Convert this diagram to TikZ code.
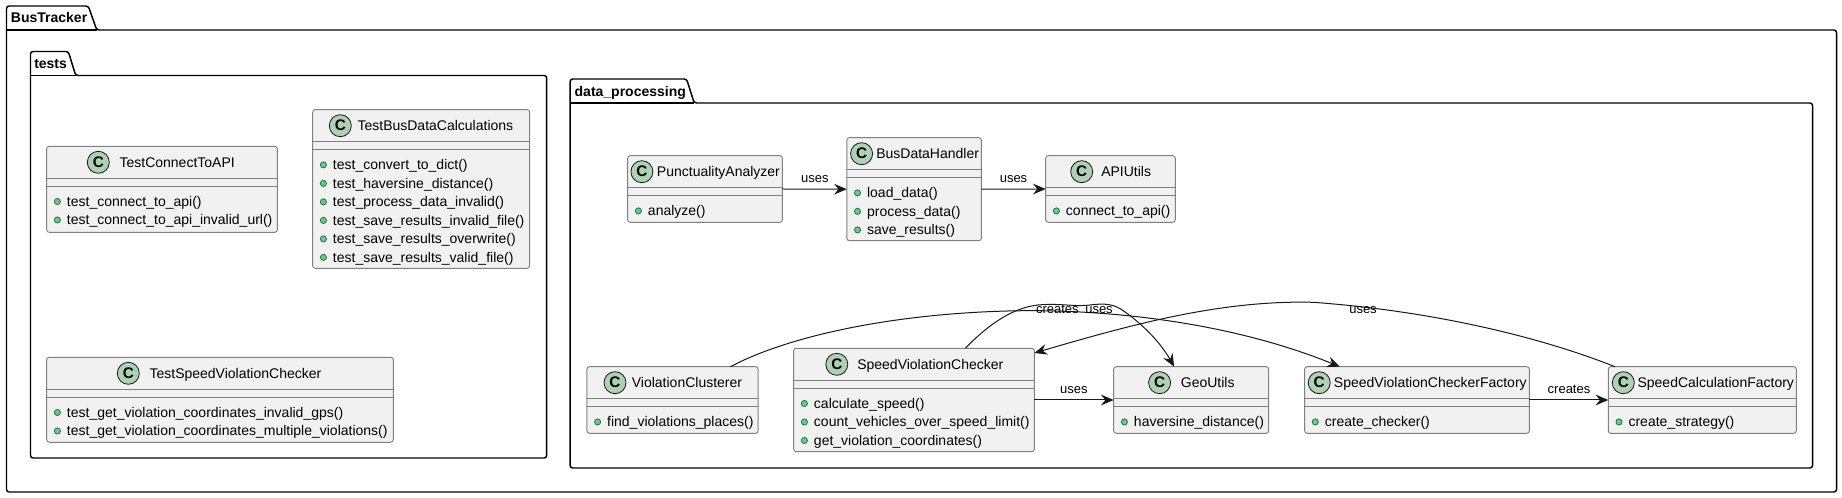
\documentclass[tikz,border=0pt]{standalone}
\usepackage{fontspec}
\setmainfont{Liberation Sans}
\usetikzlibrary{calc,arrows.meta}
\definecolor{boxfill}{HTML}{F1F1F1}
\definecolor{boxedge}{HTML}{808080}
\definecolor{ink}{HTML}{181818}
\definecolor{circfill}{HTML}{ADD1B2}
\definecolor{dotfill}{HTML}{84BE84}
\definecolor{dotedge}{HTML}{038048}
\tikzset{
  classbox/.style={draw=boxedge,fill=boxfill,line width=0.7pt,rounded corners=1.9pt,inner sep=0pt,outer sep=0pt,anchor=north west},
  classline/.style={draw=boxedge,line width=0.7pt},
  pkgshape/.style={draw=black,line width=1.1pt,rounded corners=1.9pt,line join=round},
  pkgtitle/.style={inner sep=0pt,anchor=base west,font=\fontsize{10.5pt}{12pt}\selectfont\bfseries,text=black},
  classtitle/.style={inner sep=0pt,anchor=base west,font=\fontsize{10.5pt}{12pt}\selectfont,text=black},
  member/.style={inner sep=0pt,anchor=base west,font=\fontsize{10.5pt}{12pt}\selectfont,text=black},
  linklabel/.style={inner sep=0pt,anchor=base,font=\fontsize{9.75pt}{12pt}\selectfont,text=black},
  badge/.style={circle,draw=ink,fill=circfill,line width=0.6pt,minimum size=16.5pt,inner sep=0pt,font=\fontsize{11.5pt}{12pt}\selectfont\bfseries,text=black},
  memberdot/.style={circle,draw=dotedge,fill=dotfill,line width=0.6pt,minimum size=4.6pt,inner sep=0pt},
  link/.style={draw=ink,line width=0.75pt,-{Stealth[length=9.5pt,width=8pt,inset=3.2pt,fill=ink]}}
}
% id, L, T, R, B, circle x, title x, title, rows
\newcommand{\umlclass}[9]{%
  \node[classbox,minimum width={(#4-#2)*0.75pt},minimum height={(#5-#3)*0.75pt}] (#1) at (#2,-#3) {};
  \draw[classline] ($(#1.north west)+(0,-32)$) -- ($(#1.north east)+(0,-32)$);
  \draw[classline] ($(#1.north west)+(0,-40)$) -- ($(#1.north east)+(0,-40)$);
  \node[badge] (#1-badge) at ($(#1.north west)+(#6-#2,-16)$) {C};
  \node[classtitle] (#1-title) at ($(#1.north west)+(#7-#2,-21.3)$) {#8};
  \foreach \m [count=\n from 0] in {#9} {
    \node[memberdot] (#1-dot\n) at ($(#1.north west)+(10.7,-55.2-18.5*\n)$) {};
    \node[member] (#1-row\n) at ($(#1.north west)+(20,-60.2-18.5*\n)$) {\m};
  }
}
\begin{document}
\begin{tikzpicture}[x=0.75pt,y=0.75pt]
\useasboundingbox (0,0) rectangle (1842,-498);
% packages
\draw[pkgshape] (6.5,-30) -- (6.5,-6) -- (88.3,-6) -- (96.7,-30) -- (1836.5,-30) -- (1836.5,-492) -- (6.5,-492) -- cycle;
\draw[draw=black,line width=1.1pt] (6.5,-30) -- (96.7,-30);
\node[pkgtitle] (pkgBus) at (10.7,-23) {BusTracker};
\draw[pkgshape] (30.5,-75.5) -- (30.5,-51.5) -- (68.3,-51.5) -- (75.7,-75.5) -- (546.7,-75.5) -- (546.7,-458) -- (30.5,-458) -- cycle;
\draw[draw=black,line width=1.1pt] (30.5,-75.5) -- (75.7,-75.5);
\node[pkgtitle] (pkgTests) at (34,-68.5) {tests};
\draw[pkgshape] (570.2,-103) -- (570.2,-79) -- (686.6,-79) -- (694.2,-103) -- (1812.5,-103) -- (1812.5,-468) -- (570.2,-468) -- cycle;
\draw[draw=black,line width=1.1pt] (570.2,-103) -- (694.2,-103);
\node[pkgtitle] (pkgData) at (574.4,-96.5) {data\_processing};
% classes
\umlclass{tcta}{46.7}{146.3}{277.3}{232.3}{98.3}{119.3}{TestConnectToAPI}{test\_connect\_to\_api(),test\_connect\_to\_api\_invalid\_url()}
\umlclass{tbdc}{312.7}{109.7}{529.7}{268.3}{340.3}{357.3}{TestBusDataCalculations}{test\_convert\_to\_dict(),test\_haversine\_distance(),test\_process\_data\_invalid(),test\_save\_results\_invalid\_file(),test\_save\_results\_overwrite(),test\_save\_results\_valid\_file()}
\umlclass{tsvc}{46.7}{357.3}{393.3}{442.3}{128.3}{149.3}{TestSpeedViolationChecker}{test\_get\_violation\_coordinates\_invalid\_gps(),test\_get\_violation\_coordinates\_multiple\_violations()}
\umlclass{punct}{627.7}{155.7}{782.4}{222.3}{641.9}{656.7}{PunctualityAnalyzer}{analyze()}
\umlclass{bus}{846.8}{137.7}{981.4}{240.7}{861.6}{876}{BusDataHandler}{load\_data(),process\_data(),save\_results()}
\umlclass{api}{1045.7}{155.7}{1175.3}{222.3}{1081.7}{1101}{APIUtils}{connect\_to\_api()}
\umlclass{clust}{586.9}{366.7}{758.1}{433.3}{615}{631.6}{ViolationClusterer}{find\_violations\_places()}
\umlclass{svc}{793.7}{348.3}{1034.4}{451.7}{836.8}{857}{SpeedViolationChecker}{calculate\_speed(),count\_vehicles\_over\_speed\_limit(),get\_violation\_coordinates()}
\umlclass{geo}{1113.7}{366.7}{1268.6}{433.3}{1159.6}{1180.6}{GeoUtils}{haversine\_distance()}
\umlclass{svcf}{1304.6}{366.7}{1529.3}{433.3}{1319.2}{1333.7}{SpeedViolationCheckerFactory}{create\_checker()}
\umlclass{scf}{1608.3}{366.7}{1796.3}{433.3}{1623.3}{1637.3}{SpeedCalculationFactory}{create\_strategy()}
% connectors
\draw[link] (punct.east) -- (bus.west);
\draw[link] (bus.east) -- (api.west);
\draw[link] (svc.east) -- (geo.west);
\draw[link] (svcf.east) -- (scf.west);
\draw[link] ($(clust.north west)+(143.5,0)$) .. controls (790,-335) and (900,-312) .. (1024,-310.7) .. controls (1110,-310) and (1230,-322) .. ($(svcf.north west)+(35.2,0)$);
\draw[link] ($(svc.north west)+(171.6,0)$) .. controls (985,-328) and (1010,-308) .. (1038,-305) .. controls (1060,-303) and (1075,-307) .. (1090,-305) .. controls (1105,-303) and (1115,-304) .. (1125,-312) .. controls (1145,-326) and (1162,-345) .. ($(geo.north west)+(60.4,0)$);
\draw[link] ($(scf.north west)+(6.7,0)$) .. controls (1530,-333) and (1420,-310) .. (1313,-302.3) .. controls (1220,-300) and (1130,-325) .. ($(svc.north east)+(0,-4.7)$);
% labels
\node[linklabel] (l1) at (814.8,-182.5) {uses};
\node[linklabel] (l2) at (1013.5,-182.5) {uses};
\node[linklabel] (l3) at (1073.9,-393.4) {uses};
\node[linklabel] (l4) at (1569,-393.4) {creates};
\node[linklabel] (l5) at (1057.4,-314) {creates};
\node[linklabel] (l6) at (1099,-314) {uses};
\node[linklabel] (l7) at (1363,-314) {uses};
\end{tikzpicture}
\end{document}
